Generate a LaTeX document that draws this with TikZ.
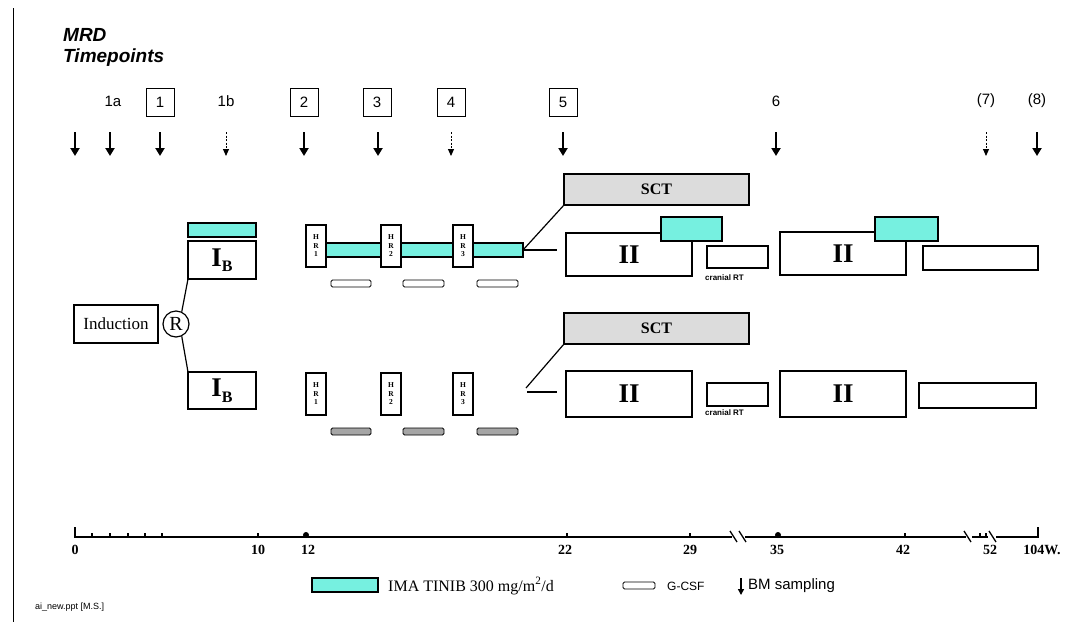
\documentclass[tikz,border=0pt]{standalone}
\usepackage{fontspec}
\setmainfont{Liberation Serif}
\setsansfont{Liberation Sans}
\usetikzlibrary{arrows.meta}
\definecolor{ima}{RGB}{118,240,224}
\definecolor{sctgray}{RGB}{220,220,220}
\definecolor{gcsfgray}{RGB}{165,165,165}
\newcommand\fs[1]{\fontsize{#1}{#1}\selectfont}
\newcommand\IB{I\raisebox{-0.45ex}{\fs{16}B}}
\begin{document}
\begin{tikzpicture}[x=1pt,y=-1pt,
  box/.style={draw, line width=1.2pt, inner sep=0pt, outer sep=0pt, anchor=north west, fill=white},
  imabox/.style={box, fill=ima},
  gcsf/.style={box, line width=0.9pt, rounded corners=1.5pt, minimum height=7pt},
  hrbox/.style={box, minimum width=20pt, minimum height=42pt, align=center, font=\bfseries\fs{7.5}},
  iibox/.style={box, font=\bfseries\fs{27}},
  sctbox/.style={box, fill=sctgray, minimum width=185pt, minimum height=31pt, font=\bfseries\fs{16}},
  tplabel/.style={font=\sffamily\fs{15}},
  tpbox/.style={draw, line width=0.9pt, minimum width=28pt, minimum height=28pt, inner sep=0pt, font=\sffamily\fs{15}},
  bmbold/.style={line width=2.4pt, -{Triangle[length=8pt,width=9pt]}},
  bmthin/.style={line width=1pt, dash pattern=on 2pt off 1.5pt, -{Triangle[length=7pt,width=6pt]}},
  axlab/.style={font=\bfseries\fs{14}, anchor=north},
  conn/.style={line width=1.2pt},
]
\useasboundingbox (0,0) rectangle (1081,622);
\draw[line width=1pt] (13,8) -- (13,622);

% title
\node[anchor=north west, align=left, font=\sffamily\bfseries\itshape\fs{19}, inner sep=0pt] (mrd) at (63,28) {MRD\\[2pt]Timepoints};

% timepoint labels
\node[tplabel] (t1a) at (113,101) {1a};
\node[tpbox] (t1) at (160,102) {1};
\node[tplabel] (t1b) at (226,101) {1b};
\node[tpbox] (t2) at (304,102) {2};
\node[tpbox] (t3) at (377,102) {3};
\node[tpbox] (t4) at (451,102) {4};
\node[tpbox] (t5) at (563,102) {5};
\node[tplabel] (t6) at (776,101) {6};
\node[tplabel] (t7) at (986,101) {(7)};
\node[tplabel] (t8) at (1037,101) {(8)};

% sampling arrows
\foreach \x/\s in {75/bmbold,110/bmbold,160/bmbold,226/bmthin,304/bmbold,378/bmbold,451/bmthin,563/bmbold,776/bmbold,986/bmthin,1037/bmbold}{
  \coordinate (as\x) at (\x,132);
  \coordinate (ae\x) at (\x,156);
  \draw[\s] (as\x) -- (ae\x);
}

% induction and randomisation
\node[box, anchor=center, minimum width=84pt, minimum height=38pt, font=\fs{17}] (ind) at (116,324) {Induction};
\node[draw, circle, line width=1.2pt, minimum size=26pt, inner sep=0pt, font=\fs{20}] (R) at (176,324) {R};

% upper arm
\node[imabox, minimum width=68pt, minimum height=14pt] (imaIB) at (188,223) {};
\node[iibox, minimum width=68pt, minimum height=38pt] (ibU) at (188,241) {\IB};
\node[imabox, minimum width=55pt, minimum height=14pt] (bar1) at (326,243) {};
\node[imabox, minimum width=52pt, minimum height=14pt] (bar2) at (401,243) {};
\node[imabox, minimum width=50pt, minimum height=14pt] (bar3) at (473,243) {};
\node[hrbox] (hrU1) at (306,225) {H\\[1pt]R\\[1pt]1};
\node[hrbox] (hrU2) at (381,225) {H\\[1pt]R\\[1pt]2};
\node[hrbox] (hrU3) at (453,225) {H\\[1pt]R\\[1pt]3};
\node[gcsf, minimum width=40pt] (gU1) at (331,280) {};
\node[gcsf, minimum width=41pt] (gU2) at (403,280) {};
\node[gcsf, minimum width=41pt] (gU3) at (477,280) {};

% lower arm
\node[iibox, minimum width=68pt, minimum height=37pt] (ibL) at (188,372) {\IB};
\node[hrbox] (hrL1) at (306,373) {H\\[1pt]R\\[1pt]1};
\node[hrbox] (hrL2) at (381,373) {H\\[1pt]R\\[1pt]2};
\node[hrbox] (hrL3) at (453,373) {H\\[1pt]R\\[1pt]3};
\node[gcsf, fill=gcsfgray, minimum width=40pt] (gL1) at (331,428) {};
\node[gcsf, fill=gcsfgray, minimum width=41pt] (gL2) at (403,428) {};
\node[gcsf, fill=gcsfgray, minimum width=41pt] (gL3) at (477,428) {};

\draw[conn] (R.65) -- (ibU.south west);
\draw[conn] (R.-65) -- (ibL.north west);

% right side, upper
\node[sctbox] (sctU) at (564,174) {SCT};
\node[iibox, minimum width=126pt, minimum height=43pt] (iiU1) at (566,233) {II};
\node[imabox, minimum width=61pt, minimum height=24pt] (cyU1) at (661,217) {};
\node[box, minimum width=61pt, minimum height=22pt] (rtU) at (707,246) {};
\node[anchor=west, inner sep=0pt, font=\sffamily\bfseries\fs{8}] (rtUl) at (705,278) {cranial RT};
\node[iibox, minimum width=126pt, minimum height=43pt] (iiU2) at (780,232) {II};
\node[imabox, minimum width=63pt, minimum height=24pt] (cyU2) at (875,217) {};
\node[box, minimum width=115pt, minimum height=24pt] (lgU) at (923,246) {};
\coordinate (uEnd) at (557,250);
\draw[conn] (bar3.east) -- (sctU.south west);
\draw[line width=2.4pt] (bar3.east) -- (uEnd);

% right side, lower
\node[sctbox] (sctL) at (564,313) {SCT};
\node[iibox, minimum width=126pt, minimum height=46pt] (iiL1) at (566,371) {II};
\node[box, minimum width=61pt, minimum height=23pt] (rtL) at (707,383) {};
\node[anchor=west, inner sep=0pt, font=\sffamily\bfseries\fs{8}] (rtLl) at (705,413) {cranial RT};
\node[iibox, minimum width=126pt, minimum height=46pt] (iiL2) at (780,371) {II};
\node[box, minimum width=117pt, minimum height=25pt] (lgL) at (919,383) {};
\coordinate (lStart) at (526,388);
\coordinate (lA) at (527,392);
\coordinate (lB) at (557,392);
\draw[conn] (lStart) -- (sctL.south west);
\draw[conn] (lA) -- (lB);

% time axis
\begin{scope}[line width=2pt]
\draw (75,527) -- (75,537) -- (732,537);
\draw (745,537) -- (966,537);
\draw (972,537) -- (988,537);
\draw (996,537) -- (1038,537) -- (1038,527);
\end{scope}
\begin{scope}[line width=1.3pt]
\draw (730,531) -- (737,542);
\draw (739,531) -- (746,542);
\draw (964,531) -- (971,542);
\draw (989,531) -- (996,542);
\foreach \x in {92,110,128,145,162,258,567,690,905,980,986}{\draw (\x,537) -- (\x,533);}
\end{scope}
\fill (306,535) circle (3pt);
\fill (778,535) circle (3pt);
\node[axlab] (w0) at (75,542) {0};
\node[axlab] (w10) at (258,542) {10};
\node[axlab] (w12) at (308,542) {12};
\node[axlab] (w22) at (565,542) {22};
\node[axlab] (w29) at (690,542) {29};
\node[axlab] (w35) at (777,542) {35};
\node[axlab] (w42) at (903,542) {42};
\node[axlab] (w52) at (990,542) {52};
\node[axlab] (w104) at (1042,542) {104W.};

% legend
\node[imabox, minimum width=66pt, minimum height=14pt] (legIma) at (312,578) {};
\node[anchor=west, inner sep=0pt, font=\fs{16}] (legImaT) at (388,586) {IMA TINIB 300 mg/m\textsuperscript{2}/d};
\node[gcsf, minimum width=32pt] (legG) at (623,582) {};
\node[anchor=west, inner sep=0pt, font=\sffamily\fs{12}] (legGT) at (667,586) {G-CSF};
\coordinate (legAs) at (741,578);
\coordinate (legAe) at (741,595);
\draw[line width=1.4pt, -{Triangle[length=6pt,width=6pt]}] (legAs) -- (legAe);
\node[anchor=west, inner sep=0pt, font=\sffamily\fs{15}] (legBM) at (748,586) {BM sampling};

\node[anchor=west, inner sep=0pt, font=\sffamily\fs{9}] (foot) at (35,607) {ai\_new.ppt [M.S.]};
\end{tikzpicture}
\end{document}
